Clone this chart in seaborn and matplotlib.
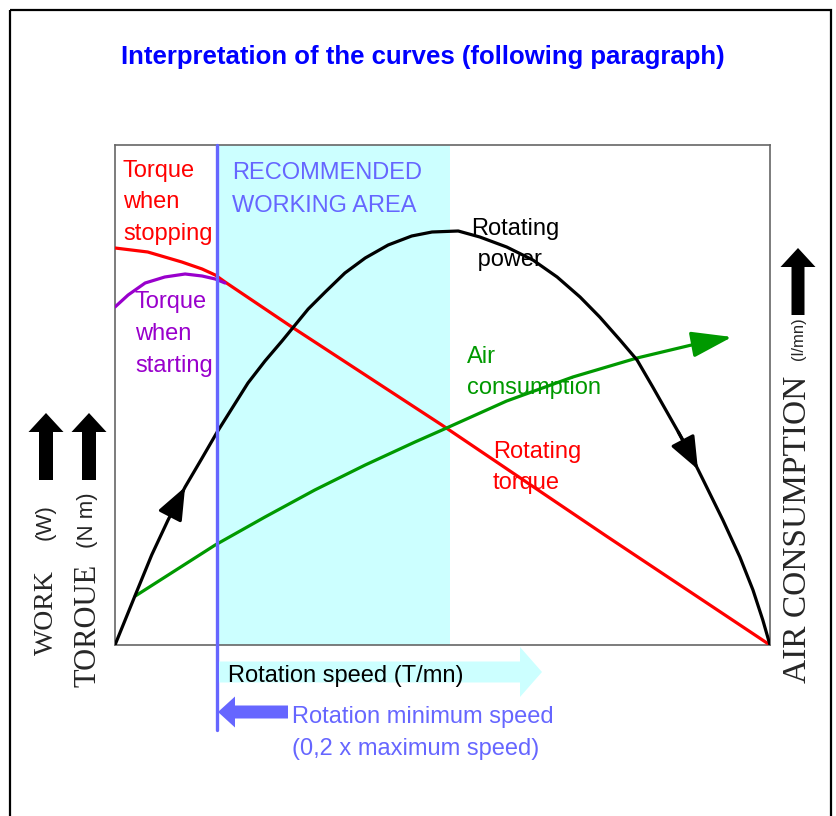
import numpy as np
import pandas as pd
import matplotlib
matplotlib.use("Agg")
import matplotlib.pyplot as plt
from matplotlib.patches import Rectangle
import seaborn as sns

#### Data (speed and values normalised, 1 = maximum) ####
power_speed = [0, 0.031, 0.056, 0.081, 0.107, 0.133, 0.156, 0.179, 0.203, 0.229,
               0.255, 0.275, 0.295, 0.321, 0.351, 0.382, 0.417, 0.453, 0.484, 0.524,
               0.557, 0.598, 0.638, 0.675, 0.710, 0.740, 0.771, 0.797, 0.821, 0.847,
               0.873, 0.898, 0.928, 0.954, 0.974, 0.989, 1.0]
power_value = [0, 0.100, 0.180, 0.250, 0.316, 0.374, 0.426, 0.474, 0.524, 0.568,
               0.608, 0.640, 0.672, 0.706, 0.744, 0.774, 0.800, 0.818, 0.826, 0.828,
               0.816, 0.796, 0.770, 0.736, 0.696, 0.656, 0.610, 0.570, 0.516, 0.456,
               0.396, 0.330, 0.250, 0.176, 0.110, 0.050, 0]

stop_torque_speed = [0, 0.050, 0.102, 0.133, 0.153, 0.168, 0.270, 0.499, 0.75, 1.0]
stop_torque_value = [0.794, 0.786, 0.766, 0.752, 0.740, 0.726, 0.636, 0.440, 0.218, 0]

start_torque_speed = [0, 0.020, 0.046, 0.076, 0.107, 0.133, 0.153, 0.168]
start_torque_value = [0.676, 0.700, 0.724, 0.736, 0.742, 0.738, 0.732, 0.724]

air_speed = [0.031, 0.153, 0.229, 0.305, 0.382, 0.458, 0.496, 0.598, 0.699, 0.797, 0.893]
air_value = [0.098, 0.200, 0.256, 0.310, 0.360, 0.406, 0.428, 0.488, 0.536, 0.574, 0.604]
air_tip = (0.942, 0.616)

min_speed = 0.156             # rotation minimum speed
recommended_max_speed = 0.511  # end of recommended working area

#### Style ####
RED = "#ff0000"
PURPLE = "#9900cc"
GREEN = "#009900"
LBLUE = "#6666ff"
CYAN = "#ccffff"

sns.set_style("white")
plt.rcParams["font.family"] = ["Liberation Sans", "DejaVu Sans"]

W, H = 837, 816
fig = plt.figure(figsize=(W / 100, H / 100), dpi=100)
ax = fig.add_axes([115 / W, 1 - 645 / H, 655 / W, 500 / H], zorder=1)

ax.axvspan(min_speed, recommended_max_speed, color=CYAN, lw=0, zorder=0)

sns.lineplot(x=stop_torque_speed, y=stop_torque_value, ax=ax, color=RED, lw=2.3, zorder=3)
sns.lineplot(x=start_torque_speed, y=start_torque_value, ax=ax, color=PURPLE, lw=2.3, zorder=3)
sns.lineplot(x=power_speed, y=power_value, ax=ax, color="black", lw=2.3, zorder=4)
sns.lineplot(x=air_speed, y=air_value, ax=ax, color=GREEN, lw=2.3, zorder=3)

# arrow heads along curves
head = dict(arrowstyle="-|>,head_length=0.8,head_width=0.32", lw=2.3,
            shrinkA=0, shrinkB=0, mutation_scale=25)
for x0, x1 in [(0.085, 0.107), (0.860, 0.890)]:
    ax.annotate("", xy=(x1, np.interp(x1, power_speed, power_value)),
                xytext=(x0, np.interp(x0, power_speed, power_value)),
                arrowprops=dict(color="black", **head), zorder=5)
ax.annotate("", xy=air_tip, xytext=(air_speed[-1], air_value[-1]),
            arrowprops=dict(color=GREEN, arrowstyle="-|>,head_length=1.0,head_width=0.32",
                            lw=2.3, shrinkA=0, shrinkB=0, mutation_scale=25), zorder=5)

# minimum speed line going below the axis
ax.plot([min_speed, min_speed], [-0.17, 1.0], color=LBLUE, lw=2.4, clip_on=False, zorder=6)

ax.set_xlim(0, 1)
ax.set_ylim(0, 1)
ax.set_xticks([])
ax.set_yticks([])
for s in ax.spines.values():
    s.set_color("#666666")
    s.set_linewidth(1.2)

#### Overlay in pixel units for labels and decorations ####
ov = fig.add_axes([0, 0, 1, 1], zorder=2)
ov.set_xlim(0, W)
ov.set_ylim(H, 0)
ov.axis("off")
ov.patch.set_alpha(0)

ov.add_patch(Rectangle((10, 10), 821, 830, fill=False, ec="black", lw=1.6, clip_on=True))

ov.text(423, 57, "Interpretation of the curves (following paragraph)", color="#0000ff",
        fontsize=18.5, fontweight="bold", ha="center", va="center")


def put_lines(x, baselines, texts, color, size=17):
    for b, t in zip(baselines, texts):
        ov.text(x, b, t, color=color, fontsize=size, ha="left", va="baseline")


put_lines(123, [177, 208, 240], ["Torque", "when", "stopping"], RED)
put_lines(232, [179, 212], ["RECOMMENDED", "WORKING AREA"], LBLUE)
put_lines(135, [308, 340, 372], ["Torque", "when", "starting"], PURPLE)
put_lines(471, [235, 266], ["Rotating", " power"], "black")
put_lines(467, [363, 394], ["Air", "consumption"], GREEN)
put_lines(493, [458, 489], ["Rotating", "torque"], RED)

# speed axis arrow
ov.arrow(219, 672, 323, 0, width=21, head_width=50, head_length=22,
         length_includes_head=True, color=CYAN, lw=0)
ov.text(228, 682, "Rotation speed (T/mn)", fontsize=17, color="black", va="baseline", zorder=3)

# minimum speed arrow
ov.arrow(288, 712, -70, 0, width=13, head_width=31, head_length=17,
         length_includes_head=True, color=LBLUE, lw=0)
put_lines(292, [723, 755], ["Rotation minimum speed", "(0,2 x maximum speed)"], LBLUE)

# vertical labels
for xc in [46, 89]:
    ov.arrow(xc, 480, 0, -67, width=14, head_width=35, head_length=19,
             length_includes_head=True, color="black", lw=0)
ov.arrow(798, 315, 0, -67, width=13, head_width=35, head_length=19,
         length_includes_head=True, color="black", lw=0)

serif = "Liberation Serif"
ov.text(46, 655, "WORK", rotation=90, ha="center", va="bottom", family=serif, fontsize=20)
ov.text(45, 540, "(W)", rotation=90, ha="center", va="bottom", fontsize=16)
ov.text(88, 687, "TOROUE", rotation=90, ha="center", va="bottom", family=serif, fontsize=22)
ov.text(88, 548, "(N m)", rotation=90, ha="center", va="bottom", fontsize=16)
ov.text(798, 683, "AIR CONSUMPTION", rotation=90, ha="center", va="bottom", family=serif, fontsize=24)
ov.text(799, 360, "(l/mn)", rotation=90, ha="center", va="bottom", fontsize=12)

fig.savefig("out.png", dpi=100)
